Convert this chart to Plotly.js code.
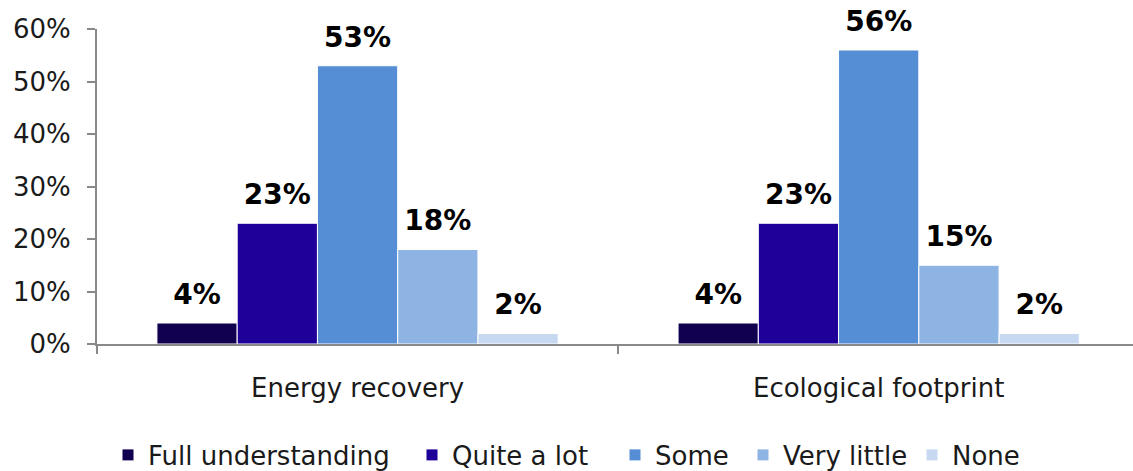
<!DOCTYPE html>
<html>
<head>
<meta charset="utf-8">
<script src="https://cdn.plot.ly/plotly-3.0.1.min.js"></script>
<style>html,body{margin:0;padding:0;background:#fff;}#chart{width:1133px;height:471px;}</style>
</head>
<body>
<div id="chart"></div>
<script>
var categories = ["Energy recovery", "Ecological footprint"];
var seriesNames = ["Full understanding", "Quite a lot", "Some", "Very little", "None"];
var fullUnderstanding = [0.04, 0.04];
var quiteALot = [0.23, 0.23];
var some = [0.53, 0.56];
var veryLittle = [0.18, 0.15];
var none = [0.02, 0.02];
var yTickValues = [0, 0.1, 0.2, 0.3, 0.4, 0.5, 0.6];
var yTickLabels = ["0%", "10%", "20%", "30%", "40%", "50%", "60%"];

var seriesValues = [fullUnderstanding, quiteALot, some, veryLittle, none];
var colors = ["#10004f", "#1f0099", "#558ed5", "#8eb4e3", "#c6d9f1"];
var FONT = "Verdana, 'DejaVu Sans', sans-serif";
var legendIds = ["legend", "legend2", "legend3", "legend4", "legend5"];
var legendLeftPx = [122, 426, 629, 757, 926];

var traces = [];
seriesValues.forEach(function (vals, i) {
  traces.push({
    type: "bar",
    name: seriesNames[i],
    legend: legendIds[i],
    x: categories,
    y: vals,
    offsetgroup: "g" + i,
    marker: { color: colors[i], line: { color: "#ffffff", width: 1 } },
    hoverinfo: "skip"
  });
});
seriesValues.forEach(function (vals, i) {
  traces.push({
    type: "scatter",
    mode: "markers+text",
    showlegend: false,
    x: categories,
    y: vals,
    offsetgroup: "g" + i,
    marker: { size: 18, color: "rgba(0,0,0,0)" },
    text: vals.map(function (v) { return Math.round(v * 100) + "%"; }),
    textposition: "top center",
    cliponaxis: false,
    textfont: { family: FONT, size: 28, color: "#000000", weight: "bold" },
    hoverinfo: "skip"
  });
});

var layout = {
  width: 1133,
  height: 471,
  margin: { l: 97, r: 0, t: 29, b: 127, autoexpand: false },
  paper_bgcolor: "#ffffff",
  plot_bgcolor: "#ffffff",
  barmode: "group",
  bargap: 0.23,
  bargroupgap: 0,
  scattermode: "group",
  scattergap: 0.23,
  font: { family: FONT, size: 26, color: "#1a1a1a" },
  showlegend: true,
  xaxis: {
    type: "category",
    range: [-0.5, 1.488],
    automargin: false,
    showline: true, linecolor: "#898989", linewidth: 2,
    ticks: "outside", tickson: "boundaries", ticklen: 8, tickcolor: "#898989", tickwidth: 2,
    tickfont: { family: FONT, size: 26, color: "#1a1a1a" },
    ticklabelstandoff: 20,
    showgrid: false, zeroline: false
  },
  yaxis: {
    range: [0, 0.6],
    automargin: false,
    tickvals: yTickValues, ticktext: yTickLabels,
    showline: true, linecolor: "#898989", linewidth: 2,
    ticks: "outside", ticklen: 8, tickcolor: "#898989", tickwidth: 2,
    tickfont: { family: FONT, size: 26, color: "#1a1a1a" },
    ticklabelstandoff: 11,
    showgrid: false, zeroline: false
  }
};
legendIds.forEach(function (id, i) {
  layout[id] = {
    orientation: "h",
    xref: "container", yref: "container",
    x: (legendLeftPx[i] - 14) / 1133, xanchor: "left",
    y: (471 - 455) / 471, yanchor: "middle",
    font: { family: FONT, size: 26, color: "#1a1a1a" },
    itemwidth: 30,
    bgcolor: "rgba(0,0,0,0)",
    borderwidth: 0
  };
});

Plotly.newPlot("chart", traces, layout, { displayModeBar: false, staticPlot: true });
</script>
</body>
</html>
